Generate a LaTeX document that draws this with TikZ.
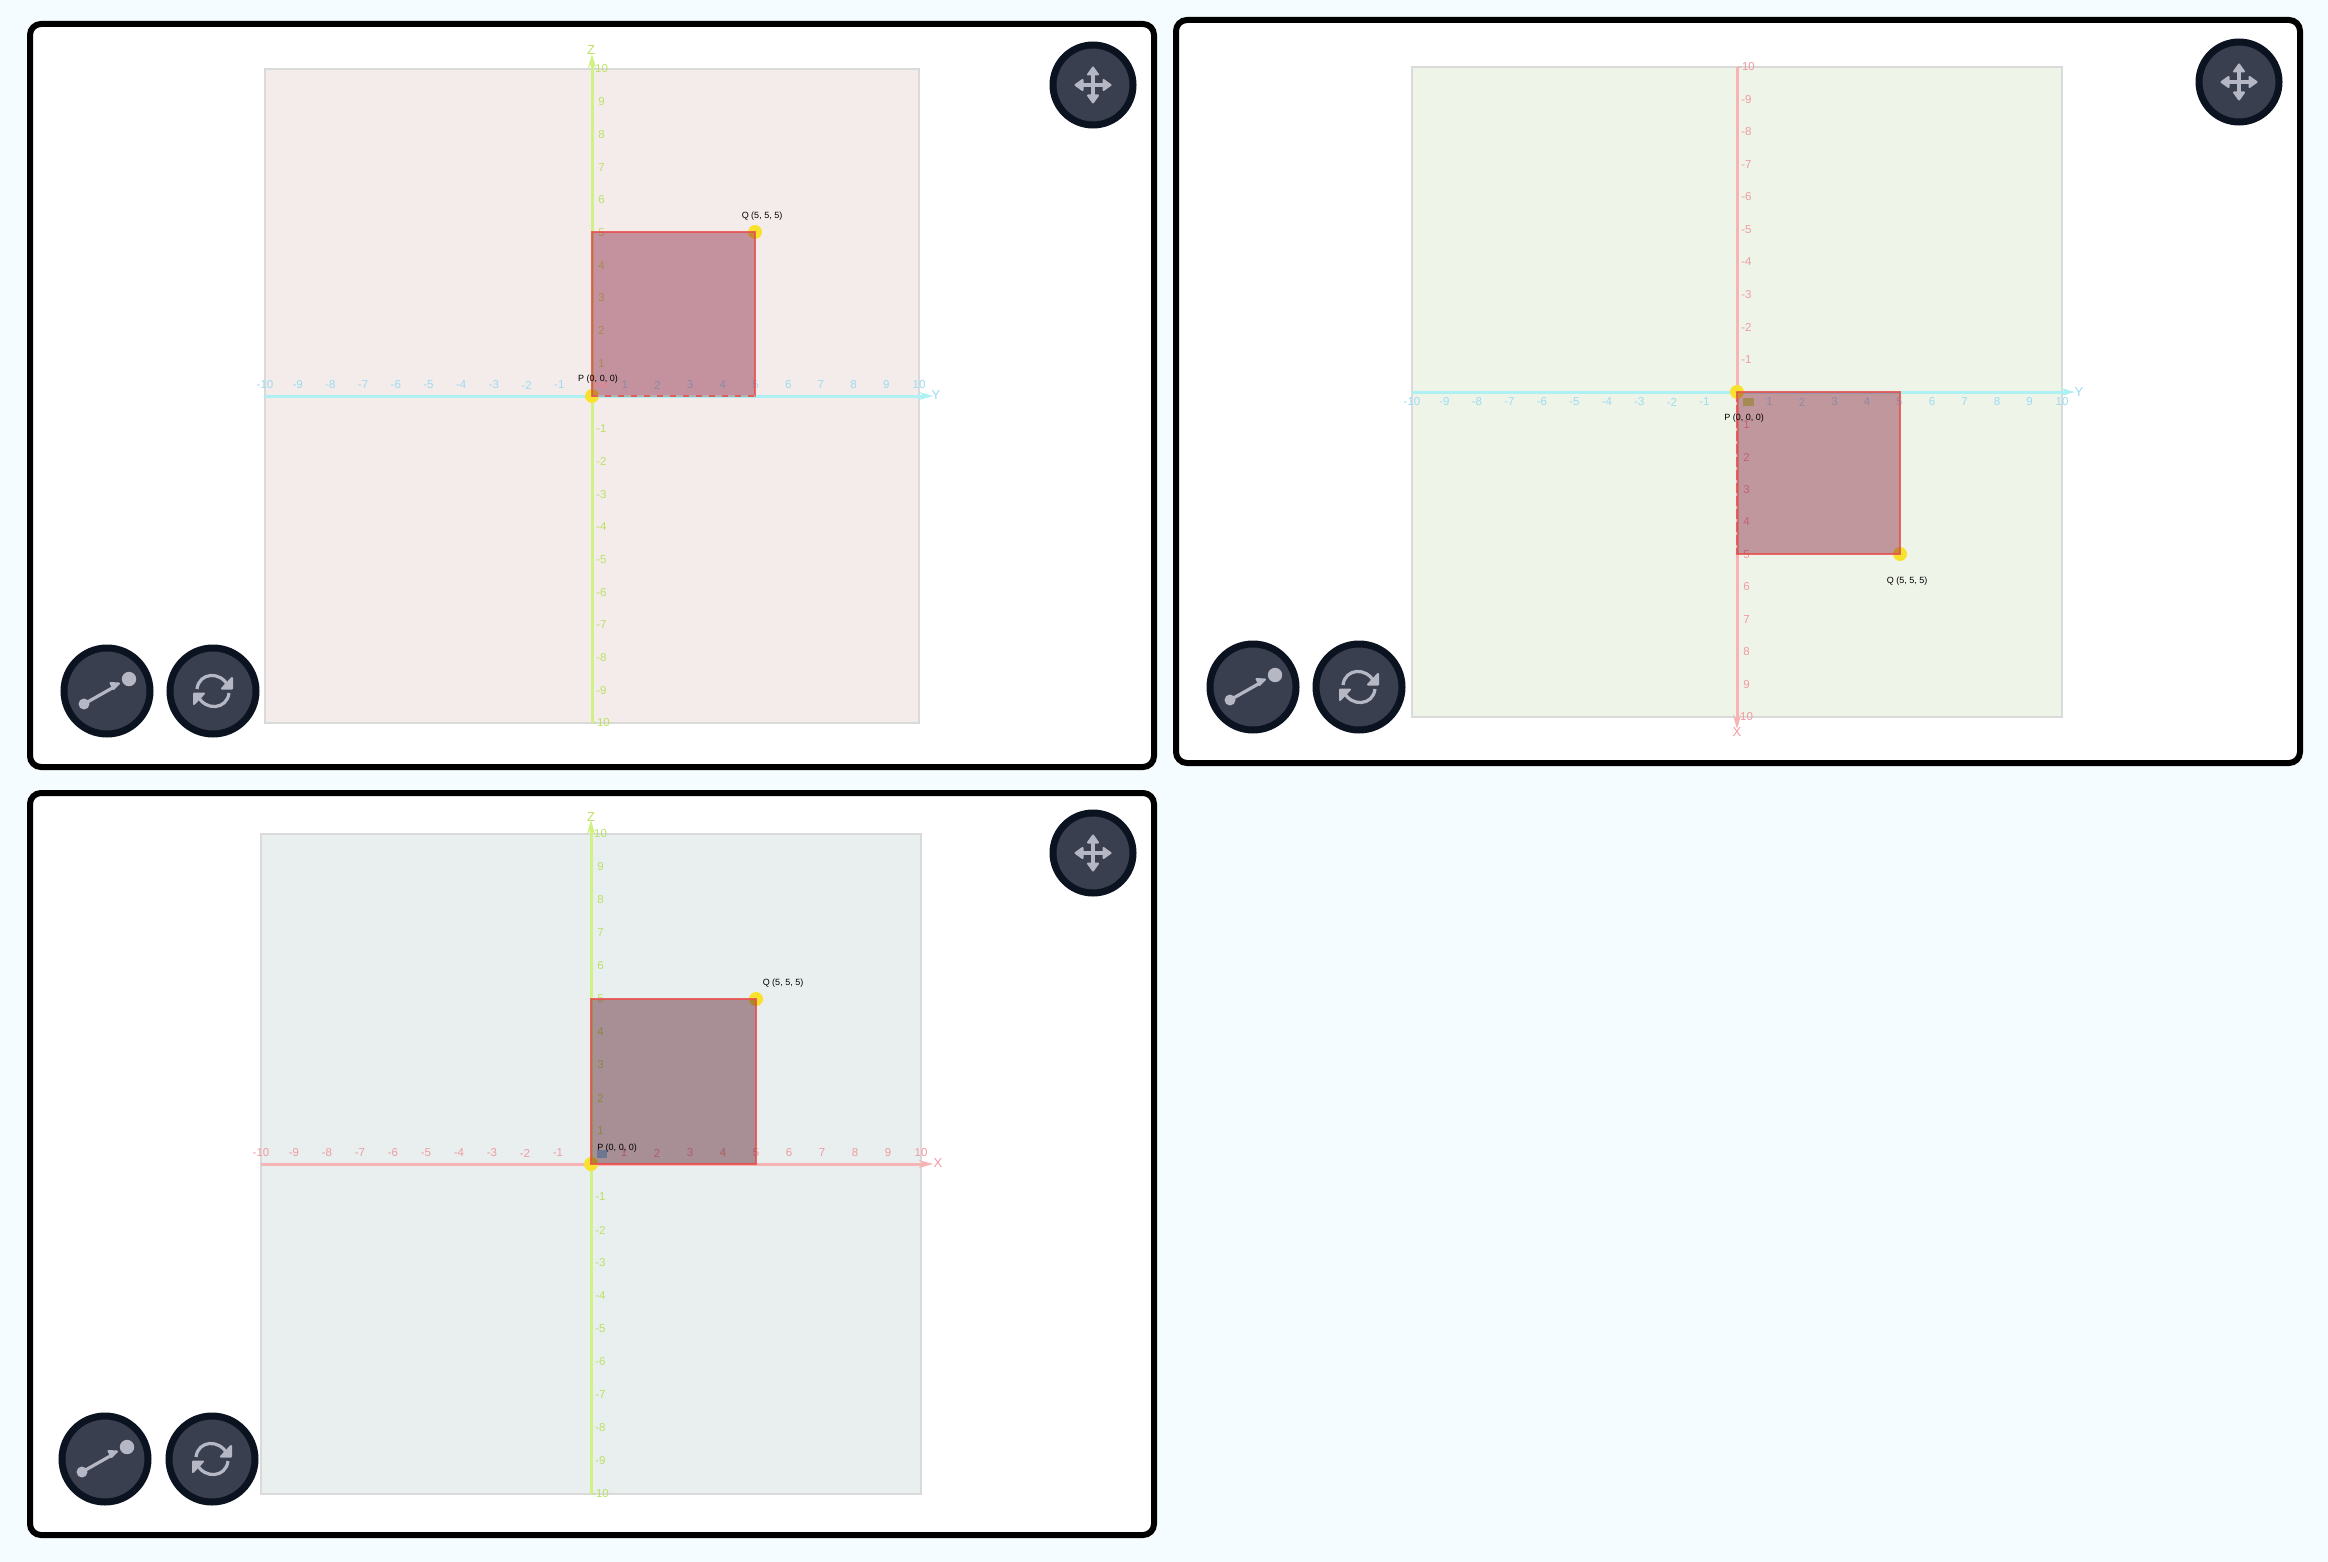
\documentclass[tikz,border=0pt]{standalone}
\usepackage{fontspec}
\setmainfont{Liberation Sans}
\usetikzlibrary{arrows.meta,calc}
\definecolor{pagebg}{HTML}{F4FCFF}
\definecolor{framec}{HTML}{000000}
\definecolor{btnfill}{HTML}{3A3F4F}
\definecolor{btnedge}{HTML}{0B1220}
\definecolor{iconc}{HTML}{B5B8C4}
\definecolor{cyanaxis}{HTML}{AEF1F2}
\definecolor{cyantick}{HTML}{9ADCF2}
\definecolor{greenaxis}{HTML}{D0F285}
\definecolor{greentick}{HTML}{BAE265}
\definecolor{redaxis}{HTML}{F6B4B4}
\definecolor{redtick}{HTML}{F09AA3}
\definecolor{edgered}{HTML}{E8504E}
\definecolor{dotyellow}{HTML}{F9E22E}
\definecolor{plotborder}{HTML}{DADADA}
\definecolor{bgA}{HTML}{F4ECEA}
\definecolor{bgB}{HTML}{EFF4E9}
\definecolor{bgC}{HTML}{E9EFEF}
\definecolor{sqA}{RGB}{124,13,47}
\definecolor{sqC}{RGB}{70,0,15}
\definecolor{zeroA}{HTML}{D08C98}
\definecolor{zeroB}{HTML}{A58A55}
\definecolor{zeroC}{HTML}{6C7892}
\tikzset{
  x=1pt,y=-1pt,
  frame/.style={draw=framec,line width=6pt,rounded corners=11pt,fill=white},
  plotarea/.style={draw=plotborder,line width=2.8pt},
  axisline/.style={line width=3pt,-{Stealth[length=14pt,width=8pt]}},
  ticklabel/.style={font=\fontsize{11.5}{12}\selectfont,inner sep=0pt},
  axislabel/.style={font=\fontsize{13}{14}\selectfont,inner sep=0pt},
  ptlabel/.style={font=\fontsize{9}{10}\selectfont,text=black,inner sep=0pt},
  ptdot/.style={circle,fill=dotyellow,minimum size=14pt,inner sep=0pt},
  edgeline/.style={draw=edgered,line width=2.8pt,line cap=round,opacity=.85},
  dashedge/.style={edgeline,line cap=butt,dash pattern=on 6pt off 7pt},
  btn/.style={circle,draw=btnedge,fill=btnfill,line width=7pt,minimum size=#1,inner sep=0pt},
  icon/.style={draw=iconc,line width=3.2pt},
  iconfill/.style={fill=iconc,draw=iconc,line width=2pt,line join=round},
}
% #1 prefix, #2 ox, #3 oy, #4 unit, #5 vertical sign, #6 horizontal tick offset,
% #7 h axis colour, #8 v axis colour, #9 plot fill
\newcommand{\plotbase}[9]{%
  \draw[plotarea,fill=#9] (#2-10*#4,#3-10*#4) rectangle (#2+10*#4,#3+10*#4);
  \coordinate (#1hs) at (#2-10*#4,#3);
  \coordinate (#1vs) at (#2,#3-10*#5*#4);
  \draw[axisline,draw=#7axis] (#1hs) -- (#1he);
  \draw[axisline,draw=#8axis] (#1vs) -- (#1ve);
  \foreach \i in {-10,-9,...,-1,1,2,...,10}{
    \pgfmathsetmacro\tx{#2+\i*#4}
    \pgfmathsetmacro\ty{#3+#6}
    \node[ticklabel,text=#7tick] (#1h\i) at (\tx,\ty) {\i};
    \pgfmathsetmacro\vx{#2+9.5}
    \pgfmathsetmacro\vy{#3+\i*#4*#5}
    \node[ticklabel,text=#8tick] (#1v\i) at (\vx,\vy) {\i};
  }
}
\newcommand{\movebtn}[3]{%
  \node[btn=80pt] (#1) at (#2,#3) {};
  \begin{scope}[shift={(#2,#3)}]
    \draw[icon] (-14,0) -- (14,0);
    \draw[icon] (0,-14) -- (0,14);
    \fill[iconfill] (0,-17.5) -- (5,-10.5) -- (-5,-10.5) -- cycle;
    \fill[iconfill] (0,17.5) -- (5,10.5) -- (-5,10.5) -- cycle;
    \fill[iconfill] (-17.5,0) -- (-10.5,5) -- (-10.5,-5) -- cycle;
    \fill[iconfill] (17.5,0) -- (10.5,5) -- (10.5,-5) -- cycle;
  \end{scope}
}
\newcommand{\linebtn}[3]{%
  \node[btn=86pt] (#1) at (#2,#3) {};
  \begin{scope}[shift={(#2,#3)}]
    \fill[iconc] (22,-12) circle (7.2);
    \fill[iconc] (-23,13) circle (5.5);
    \draw[icon] (-23,13) -- (7,-4);
    \fill[iconfill] (12,-7.5) -- (3.5,-8) -- (6.5,-2) -- cycle;
  \end{scope}
}
\newcommand{\refreshbtn}[3]{%
  \node[btn=86pt] (#1) at (#2,#3) {};
  \begin{scope}[shift={(#2,#3)}]
    \draw[icon] (-16,-2) .. controls (-14,-19) and (8,-20) .. (15,-5);
    \draw[icon] (16,2) .. controls (14,19) and (-8,20) .. (-15,5);
    \fill[iconfill] (19,-13) -- (19,-2.5) -- (9,-2.5) -- cycle;
    \fill[iconfill] (-19,13) -- (-19,2.5) -- (-9,2.5) -- cycle;
  \end{scope}
}
\begin{document}
\begin{tikzpicture}
\fill[pagebg] (0,0) rectangle (2328,1562);
\useasboundingbox (0,0) rectangle (2328,1562);

% ---------- panel A
\draw[frame] (30,24) rectangle (1154,767);
\coordinate (Ahe) at (933,396);
\coordinate (Ave) at (592,54);
\plotbase{A}{592}{396}{32.7}{-1}{-11}{cyan}{green}{bgA}
\node[axislabel,text=cyantick] (Ay) at (936,395) {Y};
\node[axislabel,text=greentick] (Az) at (591,50) {Z};
\node[ptdot] (AP) at (592,396) {};
\node[ptdot] (AQ) at (755,232) {};
\coordinate (Ab) at (AQ.center|-AP.center);
\coordinate (Ad) at (AP.center|-AQ.center);
\fill[sqA,opacity=.4] (AP.center) rectangle (AQ.center);
\draw[edgeline] (AP.center) -- (Ad) -- (AQ.center) -- (Ab);
\draw[draw=black!30,line width=2pt] (AP.center) -- (Ab);
\draw[dashedge] (AP.center) -- (Ab);
\fill[zeroA] (594,382) rectangle (608,388);
\node[ptlabel] (AQl) at (762,216) {Q (5, 5, 5)};
\node[ptlabel] (APl) at (598,379) {P (0, 0, 0)};
\movebtn{Am}{1093}{85}
\linebtn{Al}{107}{691}
\refreshbtn{Ar}{213}{691}

% ---------- panel B
\draw[frame] (1176,20) rectangle (2300,763);
\coordinate (Bhe) at (2075,392);
\coordinate (Bve) at (1737,729);
\plotbase{B}{1737}{392}{32.5}{1}{10}{cyan}{red}{bgB}
\node[axislabel,text=cyantick] (By) at (2079,392) {Y};
\node[axislabel,text=redtick] (Bx) at (1737,732) {X};
\node[ptdot] (BP) at (1737,392) {};
\node[ptdot] (BQ) at (1900,554) {};
\coordinate (Bb) at (BQ.center|-BP.center);
\coordinate (Bd) at (BP.center|-BQ.center);
\fill[sqA,opacity=.4] (BP.center) rectangle (BQ.center);
\draw[edgeline] (BP.center) -- (Bb) -- (BQ.center) -- (Bd);
\draw[dashedge,dash pattern=on 10pt off 3pt] (BP.center) -- (Bd);
\fill[zeroB] (1743,398) rectangle (1754,406);
\node[ptlabel] (BQl) at (1907,581) {Q (5, 5, 5)};
\node[ptlabel] (BPl) at (1744,418) {P (0, 0, 0)};
\movebtn{Bm}{2239}{82}
\linebtn{Bl}{1253}{687}
\refreshbtn{Br}{1359}{687}

% ---------- panel C
\draw[frame] (30,793) rectangle (1154,1535);
\coordinate (Che) at (933,1164);
\coordinate (Cve) at (591,820);
\plotbase{C}{591}{1164}{33}{-1}{-11}{red}{green}{bgC}
\node[axislabel,text=redtick] (Cx) at (938,1163) {X};
\node[axislabel,text=greentick] (Cz) at (591,817) {Z};
\node[ptdot] (CP) at (591,1164) {};
\node[ptdot] (CQ) at (756,999) {};
\coordinate (Cb) at (CQ.center|-CP.center);
\coordinate (Cd) at (CP.center|-CQ.center);
\fill[sqC,opacity=.4] (CP.center) rectangle (CQ.center);
\draw[edgeline] (CP.center) -- (Cd) -- (CQ.center) -- (Cb) -- cycle;
\fill[zeroC] (597,1150) rectangle (607,1158);
\node[ptlabel] (CQl) at (783,983) {Q (5, 5, 5)};
\node[ptlabel] (CPl) at (617,1148) {P (0, 0, 0)};
\movebtn{Cm}{1093}{853}
\linebtn{Cl}{105}{1459}
\refreshbtn{Cr}{212}{1459}
\end{tikzpicture}
\end{document}
